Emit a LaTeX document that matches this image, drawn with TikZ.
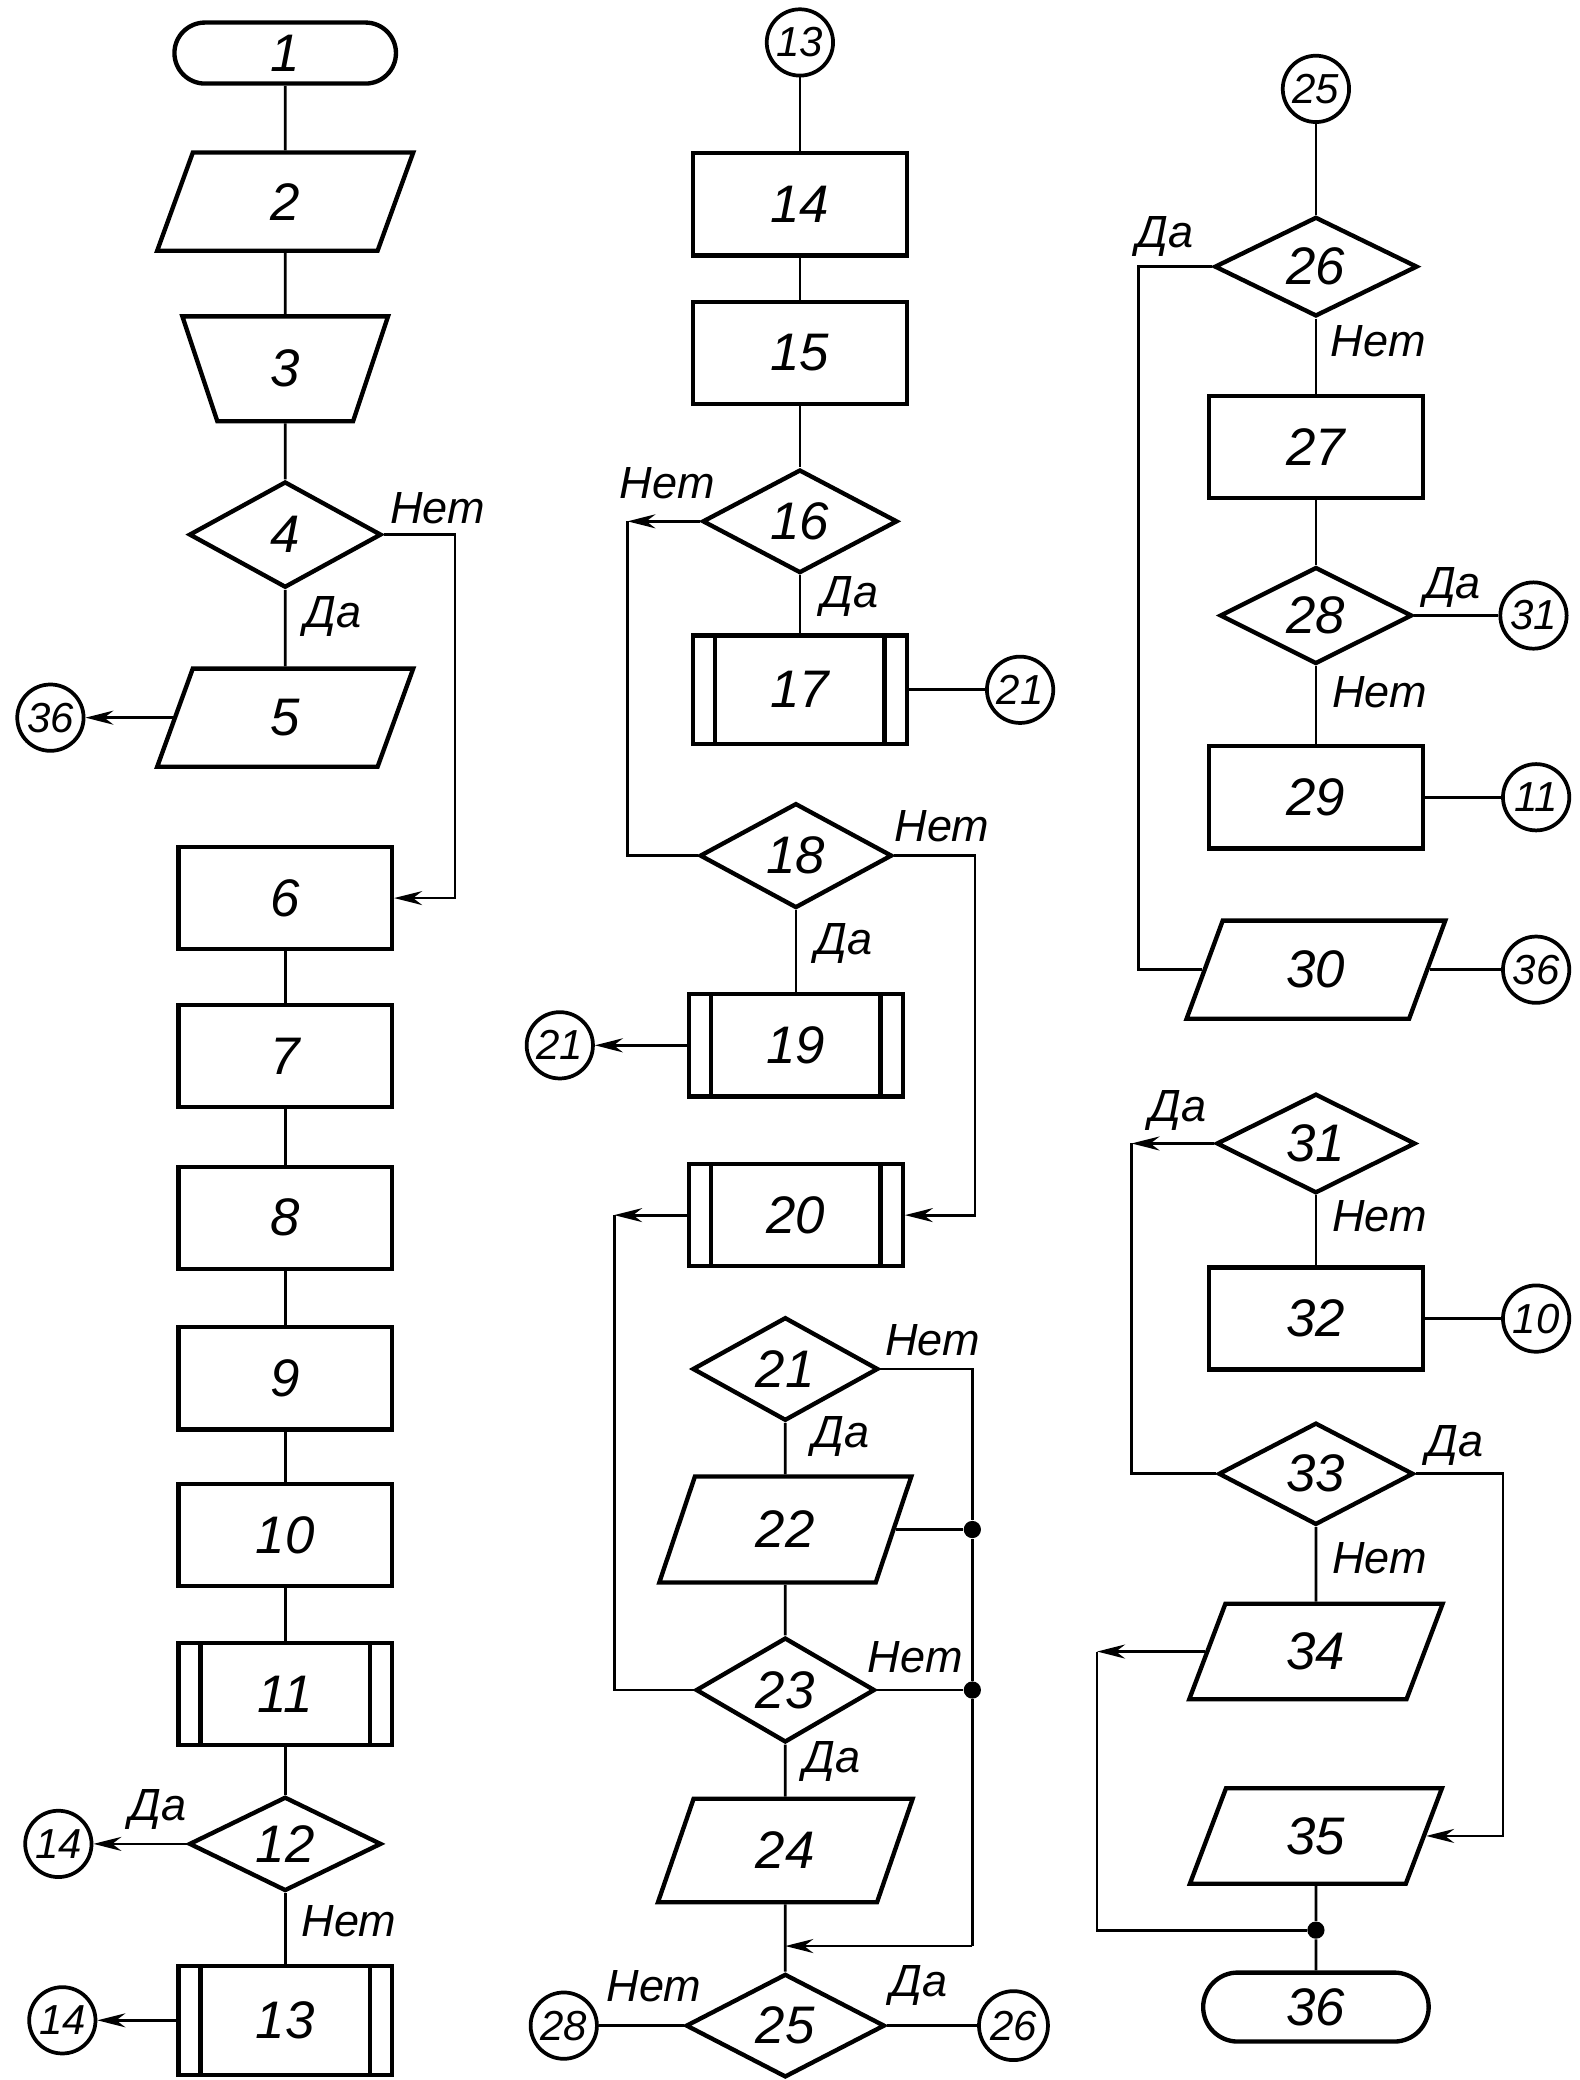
\documentclass[tikz,border=0pt]{standalone}
\usepackage{fontspec}
\setmainfont{Liberation Sans}
\usetikzlibrary{arrows.meta,shapes.geometric,shapes.misc}
\newcommand{\gu}{0.15mm}

\begin{document}
\begin{tikzpicture}[
  x=\gu, y=-\gu,
  >={Stealth[length=9pt,width=4.5pt]},
  shp/.style={draw, line width=1.4pt, inner sep=0pt, font=\itshape\fontsize{17}{20}\selectfont},
  term/.style={shp, rounded rectangle, minimum width=167*\gu, minimum height=46*\gu},
  proc/.style={shp, rectangle, minimum width=161*\gu, minimum height=77*\gu},
  subproc/.style={proc, path picture={
    \draw[line width=1.4pt] ([xshift=2.5mm]path picture bounding box.north west) -- ([xshift=2.5mm]path picture bounding box.south west)
      ([xshift=-2.5mm]path picture bounding box.north east) -- ([xshift=-2.5mm]path picture bounding box.south east);}},
  io/.style={shp, trapezium, trapezium left angle=46, trapezium right angle=134, trapezium stretches body, minimum width=193*\gu, minimum height=74*\gu},
  manual/.style={shp, trapezium, trapezium left angle=133, trapezium right angle=133, trapezium stretches body, minimum width=155*\gu, minimum height=79*\gu},
  decide/.style={shp, diamond, aspect=1.9, minimum width=145*\gu, minimum height=78*\gu},
  conn/.style={draw, circle, line width=1.2pt, inner sep=0pt, minimum size=50*\gu, font=\itshape\fontsize{13.5}{16}\selectfont},
  jdot/.style={circle, fill, inner sep=0pt, minimum size=13*\gu},
  link/.style={line width=0.9pt},
  flow/.style={link, ->},
  ans/.style={inner sep=0pt, font=\itshape\fontsize{14.5}{16}\selectfont}
]
  \useasboundingbox (0,0) rectangle (1191,1568);

  \node[term] (t1) at (215,40) {1};
  \node[io] (p2) at (215,152) {2};
  \node[manual] (m3) at (215,278) {3};
  \node[decide, minimum height=80*\gu] (d4) at (215,403) {4};
  \node[io] (p5) at (215,541) {5};
  \node[proc] (r6) at (215,677) {6};
  \node[proc] (r7) at (215,796) {7};
  \node[proc] (r8) at (215,918) {8};
  \node[proc] (r9) at (215,1039) {9};
  \node[proc] (r10) at (215,1157) {10};
  \node[subproc] (s11) at (215,1277) {11};
  \node[decide, minimum height=71*\gu] (d12) at (215,1390) {12};
  \node[subproc, minimum height=82*\gu] (s13) at (215,1523) {13};
  \node[conn] (c36a) at (38,541) {36};
  \node[conn] (c14a) at (44,1390) {14};
  \node[conn] (c14b) at (47,1523) {14};

  \node[conn] (c13) at (603,32) {13};
  \node[proc] (r14) at (603,154) {14};
  \node[proc] (r15) at (603,266) {15};
  \node[decide, minimum width=147*\gu] (d16) at (603,393) {16};
  \node[subproc, minimum height=82*\gu] (s17) at (603,520) {17};
  \node[conn] (c21a) at (769,520) {21};
  \node[decide, minimum height=79*\gu] (d18) at (600,645) {18};
  \node[subproc] (s19) at (600,788) {19};
  \node[conn] (c21b) at (422,788) {21};
  \node[subproc] (s20) at (600,916) {20};
  \node[decide, minimum width=140*\gu] (d21) at (592,1032) {21};
  \node[io, minimum width=190*\gu, minimum height=80*\gu] (p22) at (592,1153) {22};
  \node[decide, minimum width=135*\gu, minimum height=79*\gu] (d23) at (592,1274) {23};
  \node[io, minimum width=192*\gu, minimum height=78*\gu] (p24) at (592,1395) {24};
  \node[decide, minimum width=150*\gu] (d25) at (592,1527) {25};
  \node[conn] (c28) at (425,1527) {28};
  \node[conn, minimum size=52*\gu] (c26) at (764,1527) {26};
  \node[jdot] (j22) at (733,1153) {};
  \node[jdot] (j23) at (733,1274) {};

  \node[conn] (c25) at (992,67) {25};
  \node[decide, minimum width=153*\gu, minimum height=75*\gu] (d26) at (992,201) {26};
  \node[proc] (r27) at (992,337) {27};
  \node[decide, minimum height=73*\gu] (d28) at (992,464) {28};
  \node[conn] (c31) at (1156,464) {31};
  \node[proc] (r29) at (992,601) {29};
  \node[conn] (c11) at (1158,601) {11};
  \node[io, minimum width=195*\gu] (p30) at (992,731) {30};
  \node[conn] (c36b) at (1158,731) {36};
  \node[decide, minimum width=150*\gu, minimum height=75*\gu] (d31) at (992,862) {31};
  \node[proc] (r32) at (992,994) {32};
  \node[conn] (c10) at (1158,994) {10};
  \node[decide, minimum width=147*\gu, minimum height=77*\gu] (d33) at (992,1111) {33};
  \node[io, minimum width=191*\gu, minimum height=72*\gu] (p34) at (992,1245) {34};
  \node[io, minimum width=190*\gu, minimum height=72*\gu] (p35) at (992,1384) {35};
  \node[jdot] (j35) at (992,1455) {};
  \node[term, minimum width=170*\gu, minimum height=52*\gu] (t36) at (992,1513) {36};

  \coordinate (k4) at (343,0);
  \coordinate (k16) at (473,0);
  \coordinate (k18) at (735,0);
  \coordinate (k20) at (463,0);
  \coordinate (k21) at (733,0);
  \coordinate (k25) at (733,1467);
  \coordinate (m25) at (592,1467);
  \coordinate (k26) at (858,0);
  \coordinate (k31) at (853,0);
  \coordinate (k33) at (1133,0);
  \coordinate (k34) at (827,0);

  \node[ans] (l4n) at (330,383) {Нет};
  \node[ans] (l4y) at (251,465) {Да};
  \node[ans] (l12y) at (119,1364) {Да};
  \node[ans] (l12n) at (263,1448) {Нет};
  \node[ans] (l16n) at (503,364) {Нет};
  \node[ans] (l16y) at (641,450) {Да};
  \node[ans] (l18n) at (710,623) {Нет};
  \node[ans] (l18y) at (636,711) {Да};
  \node[ans] (l21n) at (703,1010) {Нет};
  \node[ans] (l21y) at (634,1083) {Да};
  \node[ans] (l23n) at (690,1249) {Нет};
  \node[ans] (l23y) at (627,1328) {Да};
  \node[ans] (l25n) at (493,1497) {Нет};
  \node[ans] (l25y) at (693,1497) {Да};
  \node[ans] (l26y) at (878,178) {Да};
  \node[ans] (l26n) at (1039,257) {Нет};
  \node[ans] (l28y) at (1095,443) {Да};
  \node[ans] (l28n) at (1040,522) {Нет};
  \node[ans] (l31y) at (888,837) {Да};
  \node[ans] (l31n) at (1040,917) {Нет};
  \node[ans] (l33y) at (1097,1090) {Да};
  \node[ans] (l33n) at (1040,1175) {Нет};

  \draw[link] (t1) -- (p2);
  \draw[link] (p2) -- (m3);
  \draw[link] (m3) -- (d4);
  \draw[link] (d4) -- (p5);
  \draw[flow] (d4.east) -- (d4.east -| k4) |- (r6.east);
  \draw[flow] (p5.left side) -- (c36a);
  \draw[link] (r6) -- (r7);
  \draw[link] (r7) -- (r8);
  \draw[link] (r8) -- (r9);
  \draw[link] (r9) -- (r10);
  \draw[link] (r10) -- (s11);
  \draw[link] (s11) -- (d12);
  \draw[link] (d12) -- (s13);
  \draw[flow] (d12.west) -- (c14a);
  \draw[flow] (s13.west) -- (c14b);

  \draw[link] (c13) -- (r14);
  \draw[link] (r14) -- (r15);
  \draw[link] (r15) -- (d16);
  \draw[link] (d16) -- (s17);
  \draw[link] (s17) -- (c21a);
  \draw[flow] (d16.west) -- (d16.west -| k16);
  \draw[link] (d16.west -| k16) |- (d18.west);
  \draw[link] (d18) -- (s19);
  \draw[flow] (s19.west) -- (c21b);
  \draw[flow] (d18.east) -- (d18.east -| k18) |- (s20.east);
  \draw[flow] (s20.west) -- (s20.west -| k20);
  \draw[link] (s20.west -| k20) |- (d23.west);
  \draw[link] (d21) -- (p22);
  \draw[link] (p22) -- (d23);
  \draw[link] (d23) -- (p24);
  \draw[link] (p24) -- (d25);
  \draw[link] (d21.east) -- (d21.east -| k21) -- (j22) -- (j23) -- (k25);
  \draw[flow] (k25) -- (m25);
  \draw[link] (p22.right side) -- (j22);
  \draw[link] (d23.east) -- (j23);
  \draw[link] (d25) -- (c28);
  \draw[link] (d25) -- (c26);

  \draw[link] (c25) -- (d26);
  \draw[link] (d26) -- (r27);
  \draw[link] (d26.west) -- (d26.west -| k26) |- (p30.left side);
  \draw[link] (r27) -- (d28);
  \draw[link] (d28) -- (c31);
  \draw[link] (d28) -- (r29);
  \draw[link] (r29) -- (c11);
  \draw[link] (p30.right side) -- (c36b);
  \draw[flow] (d31.west) -- (d31.west -| k31);
  \draw[link] (d31.west -| k31) |- (d33.west);
  \draw[link] (d31) -- (r32);
  \draw[link] (r32) -- (c10);
  \draw[link] (d33) -- (p34);
  \draw[flow] (d33.east) -- (d33.east -| k33) |- (p35.right side);
  \draw[flow] (p34.left side) -- (p34.left side -| k34);
  \draw[link] (p34.left side -| k34) |- (j35);
  \draw[link] (p35) -- (j35);
  \draw[link] (j35) -- (t36);
\end{tikzpicture}
\end{document}
